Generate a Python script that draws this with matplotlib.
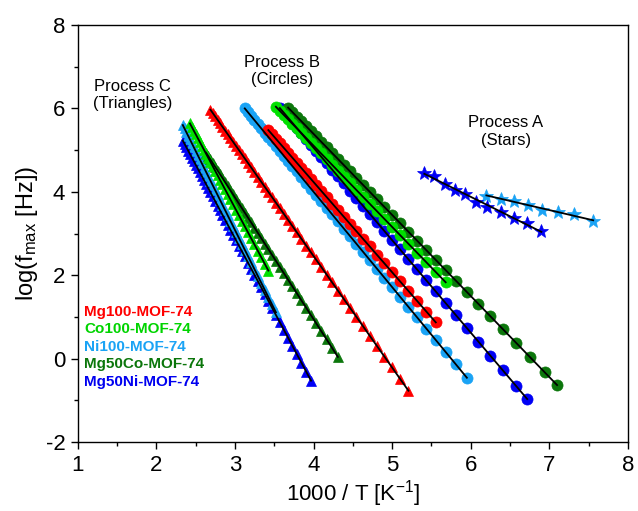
import numpy as np
import matplotlib
matplotlib.use("Agg")
import matplotlib.pyplot as plt
from matplotlib.ticker import MultipleLocator

plt.rcParams['font.family'] = ['Liberation Sans', 'DejaVu Sans']
plt.rcParams['mathtext.fontset'] = 'custom'
plt.rcParams['mathtext.rm'] = 'Liberation Sans'
plt.rcParams['mathtext.it'] = 'Liberation Sans'
plt.rcParams['axes.unicode_minus'] = False

# ---------------- data: Process C (triangles) ----------------
tri_mg100_x = [2.688, 2.717, 2.747, 2.778, 2.809, 2.841, 2.874, 2.907, 2.941, 2.976, 3.012, 3.049,
               3.086, 3.125, 3.165, 3.205, 3.247, 3.289, 3.333, 3.378, 3.425, 3.472, 3.521, 3.571,
               3.623, 3.676, 3.731, 3.788, 3.846, 3.906, 3.968, 4.032, 4.098, 4.167, 4.237, 4.310,
               4.386, 4.464, 4.545, 4.630, 4.717, 4.808, 4.902, 5.000, 5.102, 5.208]
tri_mg100_y = [5.97, 5.89, 5.81, 5.73, 5.65, 5.56, 5.47, 5.38, 5.29, 5.20, 5.10, 5.00,
               4.91, 4.80, 4.69, 4.59, 4.47, 4.36, 4.245, 4.12, 4.00, 3.87, 3.74, 3.61,
               3.47, 3.33, 3.18, 3.03, 2.87, 2.71, 2.55, 2.38, 2.20, 2.01, 1.83, 1.63,
               1.43, 1.22, 1.00, 0.78, 0.54, 0.30, 0.05, -0.21, -0.49, -0.77]

tri_co100_x = [2.427, 2.451, 2.475, 2.500, 2.525, 2.551, 2.577, 2.604, 2.632, 2.660, 2.688, 2.717,
               2.747, 2.778, 2.809, 2.841, 2.874, 2.907, 2.941, 2.976, 3.012, 3.049, 3.086, 3.125,
               3.165, 3.205, 3.247, 3.289, 3.333, 3.378, 3.425]
tri_co100_y = [5.64, 5.56, 5.47, 5.38, 5.29, 5.20, 5.11, 5.01, 4.91, 4.82, 4.72, 4.61,
               4.51, 4.40, 4.29, 4.18, 4.06, 3.94, 3.82, 3.70, 3.57, 3.44, 3.31, 3.17,
               3.03, 2.89, 2.74, 2.59, 2.44, 2.28, 2.11]

tri_ni100_x = [2.336, 2.358, 2.381, 2.404, 2.427, 2.451, 2.475, 2.500, 2.525, 2.551, 2.577, 2.604,
               2.632, 2.660, 2.688, 2.717, 2.747, 2.778, 2.809, 2.841, 2.874, 2.907, 2.941, 2.976,
               3.012, 3.049, 3.086, 3.125, 3.165, 3.205, 3.247, 3.289, 3.333, 3.378, 3.425, 3.472,
               3.521]
tri_ni100_y = [5.60, 5.52, 5.43, 5.34, 5.26, 5.16, 5.07, 4.98, 4.88, 4.79, 4.69, 4.58,
               4.48, 4.37, 4.27, 4.16, 4.04, 3.93, 3.81, 3.69, 3.56, 3.44, 3.31, 3.17,
               3.04, 2.90, 2.76, 2.61, 2.46, 2.31, 2.15, 1.99, 1.82, 1.65, 1.47, 1.30,
               1.11]

tri_mg50co_x = [2.632, 2.660, 2.688, 2.717, 2.747, 2.778, 2.809, 2.841, 2.874, 2.907, 2.941, 2.976,
                3.012, 3.049, 3.086, 3.125, 3.165, 3.205, 3.247, 3.289, 3.333, 3.378, 3.425, 3.472,
                3.521, 3.571, 3.623, 3.676, 3.731, 3.788, 3.846, 3.906, 3.968, 4.032, 4.098, 4.167,
                4.237, 4.310]
tri_mg50co_y = [4.94, 4.86, 4.78, 4.69, 4.60, 4.51, 4.42, 4.33, 4.23, 4.14, 4.04, 3.94,
                3.83, 3.72, 3.61, 3.50, 3.38, 3.27, 3.14, 3.02, 2.89, 2.76, 2.63, 2.49,
                2.35, 2.20, 2.05, 1.89, 1.73, 1.57, 1.40, 1.22, 1.04, 0.85, 0.66, 0.46,
                0.25, 0.04]

tri_mg50ni_x = [2.336, 2.358, 2.381, 2.404, 2.427, 2.451, 2.475, 2.500, 2.525, 2.551, 2.577, 2.604,
                2.632, 2.660, 2.688, 2.717, 2.747, 2.778, 2.809, 2.841, 2.874, 2.907, 2.941, 2.976,
                3.012, 3.049, 3.086, 3.125, 3.165, 3.205, 3.247, 3.289, 3.333, 3.378, 3.425, 3.472,
                3.521, 3.571, 3.623, 3.676, 3.731, 3.788, 3.846, 3.906, 3.968]
tri_mg50ni_y = [5.23, 5.15, 5.07, 4.99, 4.91, 4.82, 4.74, 4.65, 4.56, 4.47, 4.38, 4.28,
                4.19, 4.09, 3.99, 3.89, 3.78, 3.67, 3.56, 3.45, 3.33, 3.21, 3.09, 2.97,
                2.84, 2.71, 2.58, 2.45, 2.30, 2.16, 2.01, 1.87, 1.71, 1.55, 1.39, 1.22,
                1.05, 0.87, 0.69, 0.50, 0.31, 0.11, -0.10, -0.31, -0.53]

# ---------------- data: Process B (circles) ----------------
cir_ni100_x = [3.125, 3.165, 3.205, 3.247, 3.289, 3.333, 3.378, 3.425, 3.472, 3.521, 3.571, 3.623,
               3.676, 3.731, 3.788, 3.846, 3.906, 3.968, 4.032, 4.098, 4.167, 4.237, 4.310, 4.386,
               4.464, 4.545, 4.630, 4.717, 4.808, 4.902, 5.000, 5.102, 5.208, 5.319, 5.435, 5.556,
               5.682, 5.814, 5.952]
cir_ni100_y = [6.00, 5.91, 5.82, 5.72, 5.63, 5.52, 5.42, 5.31, 5.21, 5.10, 4.98, 4.86,
               4.74, 4.62, 4.49, 4.35, 4.22, 4.07, 3.93, 3.78, 3.62, 3.46, 3.29, 3.12,
               2.94, 2.76, 2.56, 2.36, 2.15, 1.94, 1.72, 1.48, 1.24, 0.99, 0.72, 0.45,
               0.16, -0.14, -0.46]

cir_mg100_x = [3.425, 3.472, 3.521, 3.571, 3.623, 3.676, 3.731, 3.788, 3.846, 3.906, 3.968, 4.032,
               4.098, 4.167, 4.237, 4.310, 4.386, 4.464, 4.545, 4.630, 4.717, 4.808, 4.902, 5.000,
               5.102, 5.208, 5.319, 5.435, 5.556]
cir_mg100_y = [5.48, 5.38, 5.27, 5.16, 5.05, 4.94, 4.82, 4.69, 4.57, 4.44, 4.31, 4.17,
               4.02, 3.87, 3.72, 3.57, 3.40, 3.23, 3.06, 2.87, 2.69, 2.49, 2.29, 2.07,
               1.85, 1.62, 1.38, 1.13, 0.87]

cir_co100_x = [3.521, 3.571, 3.623, 3.676, 3.731, 3.788, 3.846, 3.906, 3.968, 4.032, 4.098, 4.167,
               4.237, 4.310, 4.386, 4.464, 4.545, 4.630, 4.717, 4.808, 4.902, 5.000, 5.102, 5.208,
               5.319, 5.435, 5.556, 5.682]
cir_co100_y = [6.04, 5.94, 5.84, 5.74, 5.63, 5.52, 5.41, 5.29, 5.17, 5.04, 4.92, 4.78,
               4.65, 4.50, 4.36, 4.20, 4.05, 3.88, 3.71, 3.53, 3.35, 3.16, 2.96, 2.75,
               2.54, 2.31, 2.08, 1.83]

cir_mg50co_x = [3.676, 3.731, 3.788, 3.846, 3.906, 3.968, 4.032, 4.098, 4.167, 4.237, 4.310, 4.386,
                4.464, 4.545, 4.630, 4.717, 4.808, 4.902, 5.000, 5.102, 5.208, 5.319, 5.435, 5.556,
                5.682, 5.814, 5.952, 6.098, 6.250, 6.410, 6.579, 6.757, 6.944, 7.100]
cir_mg50co_y = [6.02, 5.91, 5.80, 5.69, 5.57, 5.45, 5.33, 5.20, 5.07, 4.93, 4.79, 4.64,
                4.49, 4.33, 4.17, 4.00, 3.82, 3.64, 3.45, 3.25, 3.04, 2.83, 2.60, 2.37,
                2.12, 1.86, 1.60, 1.31, 1.02, 0.71, 0.38, 0.03, -0.33, -0.64]

cir_mg50ni_x = [3.571, 3.623, 3.676, 3.731, 3.788, 3.846, 3.906, 3.968, 4.032, 4.098, 4.167,
                4.237, 4.310, 4.386, 4.464, 4.545, 4.630, 4.717, 4.808, 4.902, 5.000, 5.102, 5.208,
                5.319, 5.435, 5.556, 5.682, 5.814, 5.952, 6.098, 6.250, 6.410, 6.579, 6.720]
cir_mg50ni_y = [6.01, 5.89, 5.78, 5.65, 5.53, 5.40, 5.27, 5.13, 4.99, 4.84, 4.69,
                4.53, 4.37, 4.20, 4.03, 3.85, 3.66, 3.47, 3.27, 3.06, 2.84, 2.62, 2.38,
                2.14, 1.88, 1.61, 1.33, 1.04, 0.73, 0.41, 0.07, -0.28, -0.66, -0.97]

# ---------------- data: Process A (stars) ----------------
star_mg50ni_x = [5.41, 5.53, 5.67, 5.80, 5.93, 6.07, 6.21, 6.38, 6.55, 6.72, 6.90]
star_mg50ni_y = [4.45, 4.39, 4.18, 4.05, 3.95, 3.75, 3.63, 3.51, 3.37, 3.25, 3.07]
star_ni100_x = [6.20, 6.38, 6.55, 6.73, 6.91, 7.11, 7.32, 7.56]
star_ni100_y = [3.91, 3.83, 3.78, 3.69, 3.57, 3.51, 3.46, 3.30]

sample_names = ["Mg100-MOF-74", "Co100-MOF-74", "Ni100-MOF-74", "Mg50Co-MOF-74", "Mg50Ni-MOF-74"]
process_labels = ["Process C\n(Triangles)", "Process B\n(Circles)", "Process A\n(Stars)"]

# ---------------- styling ----------------
C_RED = '#FF0000'
C_GREEN = '#00E000'
C_LBLUE = '#1AA3F5'
C_DGREEN = '#0B760B'
C_BLUE = '#0000F5'
legend_colors = ['#FF0000', '#00D400', '#1AA3F5', '#0B760B', '#0000F0']

fig = plt.figure(figsize=(6.38, 5.11), dpi=100)
ax = fig.add_axes([0.122, 0.135, 0.862, 0.816])

def series(x, y, color, marker, ms):
    ax.plot(x, y, linestyle='none', marker=marker, ms=ms, color=color,
            markeredgecolor=color, markeredgewidth=0.5, zorder=2)

def fit(x, y):
    x = np.asarray(x); y = np.asarray(y)
    p = np.polyfit(x, y, 1)
    xx = np.array([x.min(), x.max()])
    ax.plot(xx, np.polyval(p, xx), color='black', lw=1.3, zorder=4)

TRI_MS = 7.2
CIR_MS = 8.0
STAR_MS = 10.5

# triangles
series(tri_mg50ni_x, tri_mg50ni_y, C_BLUE, '^', TRI_MS)
series(tri_ni100_x, tri_ni100_y, C_LBLUE, '^', TRI_MS)
series(tri_mg50co_x, tri_mg50co_y, C_DGREEN, '^', TRI_MS)
series(tri_mg100_x, tri_mg100_y, C_RED, '^', TRI_MS)
series(tri_co100_x, tri_co100_y, C_GREEN, '^', TRI_MS)
# circles
series(cir_ni100_x, cir_ni100_y, C_LBLUE, 'o', CIR_MS)
series(cir_mg100_x, cir_mg100_y, C_RED, 'o', CIR_MS)
series(cir_mg50ni_x, cir_mg50ni_y, C_BLUE, 'o', CIR_MS)
series(cir_mg50co_x, cir_mg50co_y, C_DGREEN, 'o', CIR_MS)
series(cir_co100_x, cir_co100_y, C_GREEN, 'o', CIR_MS)
# stars
series(star_ni100_x, star_ni100_y, C_LBLUE, '*', STAR_MS)
series(star_mg50ni_x, star_mg50ni_y, C_BLUE, '*', STAR_MS)

for xs, ys in [(tri_mg50ni_x, tri_mg50ni_y), (tri_ni100_x, tri_ni100_y), (tri_mg50co_x, tri_mg50co_y),
               (tri_mg100_x, tri_mg100_y), (tri_co100_x, tri_co100_y),
               (cir_ni100_x, cir_ni100_y), (cir_mg100_x, cir_mg100_y), (cir_mg50ni_x, cir_mg50ni_y),
               (cir_mg50co_x, cir_mg50co_y), (cir_co100_x, cir_co100_y),
               (star_ni100_x, star_ni100_y), (star_mg50ni_x, star_mg50ni_y)]:
    fit(xs, ys)

ax.set_xlim(1, 8)
ax.set_ylim(-2, 8)
ax.xaxis.set_major_locator(MultipleLocator(1))
ax.xaxis.set_minor_locator(MultipleLocator(0.5))
ax.yaxis.set_major_locator(MultipleLocator(2))
ax.yaxis.set_minor_locator(MultipleLocator(1))
ax.tick_params(which='both', direction='out', top=False, right=False, labelsize=16, width=1)
ax.tick_params(which='major', length=5, pad=4)
ax.tick_params(which='minor', length=3)
for s in ax.spines.values():
    s.set_linewidth(1.0)

ax.set_xlabel('1000 / T [K$^{-1}$]', fontsize=16, labelpad=2)
ax.set_ylabel('log(f$_{\\mathrm{max}}$ [Hz])', fontsize=17, labelpad=4)

# process annotations
ax.text(1.7, 6.32, process_labels[0], ha='center', va='center', fontsize=12)
ax.text(3.6, 6.9, process_labels[1], ha='center', va='center', fontsize=12)
ax.text(6.45, 5.45, process_labels[2], ha='center', va='center', fontsize=12)

# colored sample legend text
for i, (name, col) in enumerate(zip(sample_names, legend_colors)):
    ax.text(1.08, 1.12 - i * 0.42, name, color=col, fontsize=11, fontweight='bold',
            ha='left', va='center')

fig.savefig('out.png', dpi=100)
